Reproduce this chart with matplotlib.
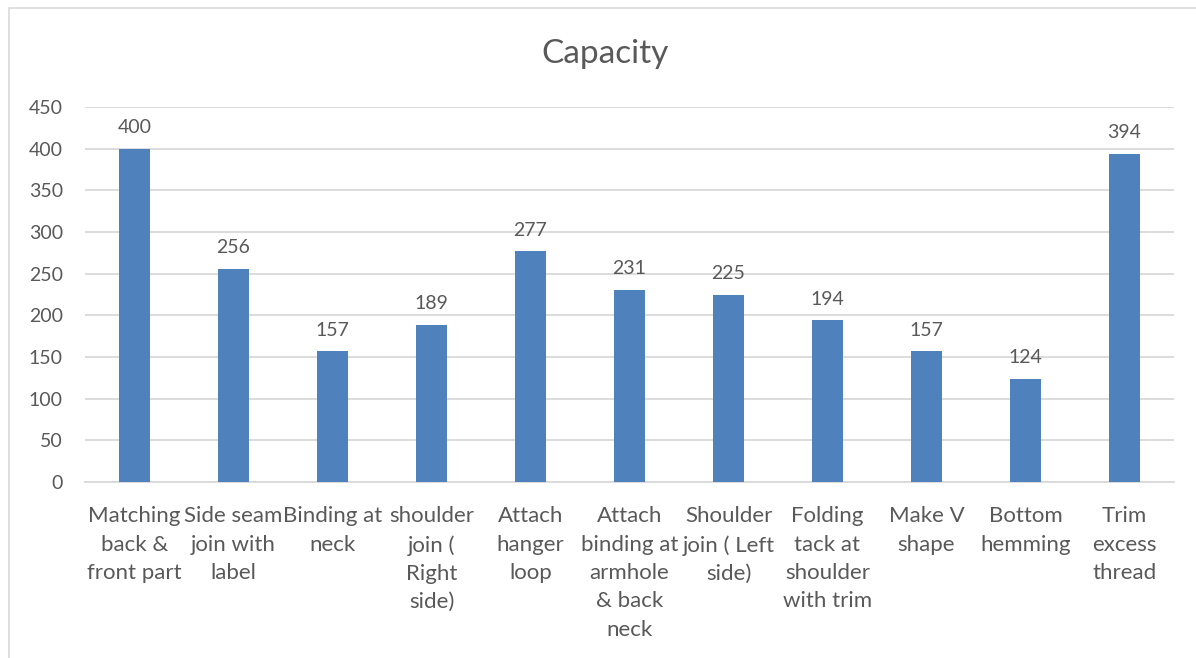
import matplotlib
matplotlib.use("Agg")
import matplotlib.pyplot as plt
from matplotlib.patches import Rectangle

categories = [
    "Matching\nback &\nfront part",
    "Side seam\njoin with\nlabel",
    "Binding at\nneck",
    "shoulder\njoin (\nRight\nside)",
    "Attach\nhanger\nloop",
    "Attach\nbinding at\narmhole\n& back\nneck",
    "Shoulder\njoin ( Left\nside)",
    "Folding\ntack at\nshoulder\nwith trim",
    "Make V\nshape",
    "Bottom\nhemming",
    "Trim\nexcess\nthread",
]
values = [400, 256, 157, 189, 277, 231, 225, 194, 157, 124, 394]
yticks = [0, 50, 100, 150, 200, 250, 300, 350, 400, 450]
title = "Capacity"

W, H = 1196, 658
fig = plt.figure(figsize=(W / 100, H / 100), dpi=100)
plt.rcParams['font.family'] = ['Lato', 'DejaVu Sans']
text_color = "#595959"
grid_color = "#D9D9D9"
bar_color = "#4F81BD"

# chart border
fig.patches.append(Rectangle((9 / W, -0.05), 1.2, 1 - 8 / H + 0.05, transform=fig.transFigure,
                             fill=False, edgecolor=grid_color, linewidth=1.2, zorder=0))

ax = fig.add_axes([85 / W, 1 - 482 / H, (1174 - 85) / W, (482 - 107) / H])
x = list(range(len(categories)))
bars = ax.bar(x, values, width=0.32, color=bar_color, zorder=3)
ax.set_xlim(-0.5, len(categories) - 0.5)
ax.set_ylim(0, 450)
ax.set_yticks(yticks)
ax.set_yticklabels([str(v) for v in yticks], fontsize=14, color=text_color)
ax.set_xticks(x)
ax.set_xticklabels(categories, fontsize=16, color=text_color, linespacing=1.52, va="top")
ax.tick_params(axis="both", length=0)
ax.tick_params(axis="y", pad=16)
ax.tick_params(axis="x", pad=17.5)
ax.yaxis.grid(True, color=grid_color, linewidth=1.3, zorder=0)
for s in ["top", "right", "left"]:
    ax.spines[s].set_visible(False)
ax.spines["bottom"].set_color(grid_color)
ax.spines["bottom"].set_linewidth(1.3)

for xi, v in zip(x, values):
    ax.annotate(str(v), (xi, v), xytext=(0, 9), textcoords="offset points",
                ha="center", va="bottom", fontsize=14, color=text_color)

fig.text(605 / W, 1 - 54 / H, title, ha="center", va="center", fontsize=24, color=text_color)

fig.savefig("out.png", dpi=100)
